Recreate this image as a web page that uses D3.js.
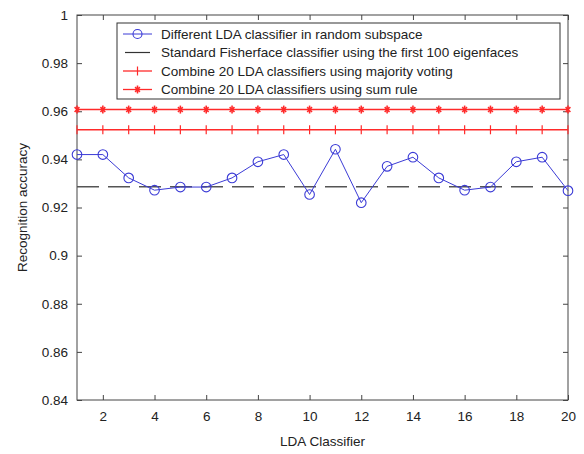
<!DOCTYPE html>
<html>
<head>
<meta charset="utf-8">
<script src="https://cdn.jsdelivr.net/npm/d3@7"></script>
<style>
  html, body { margin: 0; padding: 0; background: #fff; }
  svg { display: block; font-family: "Liberation Sans", Arial, sans-serif; }
</style>
</head>
<body>
<svg id="chart" width="584" height="454"></svg>
<script>
// ---- data ----
const classifiers = d3.range(1, 21);
const ldaAccuracy = [0.942, 0.942, 0.9323, 0.9272, 0.9285, 0.9285, 0.9323, 0.939, 0.942, 0.9254,
                     0.9442, 0.922, 0.9371, 0.9409, 0.9323, 0.9272, 0.9285, 0.939, 0.9409, 0.927];
const fisherfaceAccuracy = 0.9286;
const majorityVotingAccuracy = 0.9523;
const sumRuleAccuracy = 0.9607;
const xTicks = [2, 4, 6, 8, 10, 12, 14, 16, 18, 20];
const yTicks = [0.84, 0.86, 0.88, 0.9, 0.92, 0.94, 0.96, 0.98, 1];
const legendLabels = [
  "Different LDA classifier in random subspace",
  "Standard Fisherface classifier using the first 100 eigenfaces",
  "Combine 20 LDA classifiers using majority voting",
  "Combine 20 LDA classifiers using sum rule"
];

// ---- layout ----
const L = 77, R = 568, T = 15, B = 400;
const blue = "#3b3bd6", red = "#ff2a2a", axisCol = "#444";

const svg = d3.select("#chart");
const x = d3.scaleLinear().domain([1, 20]).range([L, R]);
const y = d3.scaleLinear().domain([0.84, 1]).range([B, T]);

// frame
svg.append("rect").attr("x", L).attr("y", T).attr("width", R - L).attr("height", B - T)
  .attr("fill", "none").attr("stroke", axisCol).attr("stroke-width", 1);

// axes (ticks inside)
const fmt = d => String(+d.toFixed(2)).replace(/^0\./, "0.");
const gx = svg.append("g").attr("transform", `translate(0,${B})`)
  .call(d3.axisBottom(x).tickValues(xTicks).tickSizeInner(-5).tickSizeOuter(0).tickPadding(11).tickFormat(d3.format("d")));
const gxt = svg.append("g").attr("transform", `translate(0,${T})`)
  .call(d3.axisTop(x).tickValues(xTicks).tickSizeInner(-5).tickSizeOuter(0).tickFormat(""));
const gy = svg.append("g").attr("transform", `translate(${L},0)`)
  .call(d3.axisLeft(y).tickValues(yTicks).tickSizeInner(-5).tickSizeOuter(0).tickPadding(9).tickFormat(d => d === 1 ? "1" : fmt(d)));
const gyr = svg.append("g").attr("transform", `translate(${R},0)`)
  .call(d3.axisRight(y).tickValues(yTicks).tickSizeInner(-5).tickSizeOuter(0).tickFormat(""));
[gx, gxt, gy, gyr].forEach(g => {
  g.select(".domain").remove();
  g.selectAll("line").attr("stroke", axisCol);
  g.selectAll("text").attr("fill", "#222").style("font-size", "13.5px").style("font-family", "Liberation Sans, Arial, sans-serif");
});

// fisherface dashed line
svg.append("line").attr("x1", L).attr("x2", R)
  .attr("y1", y(fisherfaceAccuracy)).attr("y2", y(fisherfaceAccuracy))
  .attr("stroke", "#555").attr("stroke-width", 1.5).attr("stroke-dasharray", "22,9");

// majority voting red line with + markers
svg.append("line").attr("x1", L).attr("x2", R)
  .attr("y1", y(majorityVotingAccuracy)).attr("y2", y(majorityVotingAccuracy))
  .attr("stroke", red).attr("stroke-width", 1.5);
svg.append("g").selectAll("line").data(classifiers).join("line")
  .attr("x1", d => x(d)).attr("x2", d => x(d))
  .attr("y1", y(majorityVotingAccuracy) - 4.5).attr("y2", y(majorityVotingAccuracy) + 4.5)
  .attr("stroke", red).attr("stroke-width", 1.2);

// sum rule red line with * markers
svg.append("line").attr("x1", L).attr("x2", R)
  .attr("y1", y(sumRuleAccuracy)).attr("y2", y(sumRuleAccuracy))
  .attr("stroke", red).attr("stroke-width", 1.5);
function star(g, cx, cy, s) {
  g.append("line").attr("x1", cx).attr("x2", cx).attr("y1", cy - s).attr("y2", cy + s);
  g.append("line").attr("x1", cx - s * 0.6).attr("x2", cx + s * 0.6).attr("y1", cy - s * 0.6).attr("y2", cy + s * 0.6);
  g.append("line").attr("x1", cx - s * 0.6).attr("x2", cx + s * 0.6).attr("y1", cy + s * 0.6).attr("y2", cy - s * 0.6);
}
const starG = svg.append("g").attr("stroke", red).attr("stroke-width", 1.6);
classifiers.forEach(d => star(starG, x(d), y(sumRuleAccuracy), 4));

// LDA blue line + circles
const line = d3.line().x((d, i) => x(classifiers[i])).y(d => y(d));
svg.append("path").datum(ldaAccuracy).attr("d", line)
  .attr("fill", "none").attr("stroke", blue).attr("stroke-width", 1);
svg.append("g").selectAll("circle").data(ldaAccuracy).join("circle")
  .attr("cx", (d, i) => x(classifiers[i])).attr("cy", d => y(d)).attr("r", 4.8)
  .attr("fill", "none").attr("stroke", blue).attr("stroke-width", 1.1);

// legend
const lg = svg.append("g");
lg.append("rect").attr("x", 117).attr("y", 23).attr("width", 443).attr("height", 76)
  .attr("fill", "#fff").attr("stroke", "#333").attr("stroke-width", 1);
const rowY = [34, 52.5, 71, 89.5];
const sx1 = 123, sx2 = 152, sxm = 137.5;
legendLabels.forEach((t, i) => {
  lg.append("text").attr("x", 161).attr("y", rowY[i]).attr("dy", "0.35em")
    .style("font-size", "13.5px").attr("fill", "#222").text(t);
});
// row 0
lg.append("line").attr("x1", sx1).attr("x2", sx2).attr("y1", rowY[0]).attr("y2", rowY[0]).attr("stroke", blue).attr("stroke-width", 1);
lg.append("circle").attr("cx", sxm).attr("cy", rowY[0]).attr("r", 4.5).attr("fill", "none").attr("stroke", blue).attr("stroke-width", 1.1);
// row 1
lg.append("line").attr("x1", sx1 + 2).attr("x2", sx2 - 2).attr("y1", rowY[1]).attr("y2", rowY[1]).attr("stroke", "#333").attr("stroke-width", 1.2);
// row 2
lg.append("line").attr("x1", sx1).attr("x2", sx2).attr("y1", rowY[2]).attr("y2", rowY[2]).attr("stroke", red).attr("stroke-width", 1.3);
lg.append("line").attr("x1", sxm).attr("x2", sxm).attr("y1", rowY[2] - 4.5).attr("y2", rowY[2] + 4.5).attr("stroke", red).attr("stroke-width", 1.2);
// row 3
lg.append("line").attr("x1", sx1).attr("x2", sx2).attr("y1", rowY[3]).attr("y2", rowY[3]).attr("stroke", red).attr("stroke-width", 1.3);
const lsg = lg.append("g").attr("stroke", red).attr("stroke-width", 1.6);
star(lsg, sxm, rowY[3], 4);

// axis titles
svg.append("text").attr("x", (L + R) / 2).attr("y", 441).attr("text-anchor", "middle").attr("dy", "0.35em")
  .style("font-size", "13.5px").attr("fill", "#222").text("LDA Classifier");
svg.append("text").attr("transform", `translate(22,${(T + B) / 2}) rotate(-90)`).attr("text-anchor", "middle").attr("dy", "0.35em")
  .style("font-size", "13.5px").attr("fill", "#222").text("Recognition accuracy");
</script>
</body>
</html>
